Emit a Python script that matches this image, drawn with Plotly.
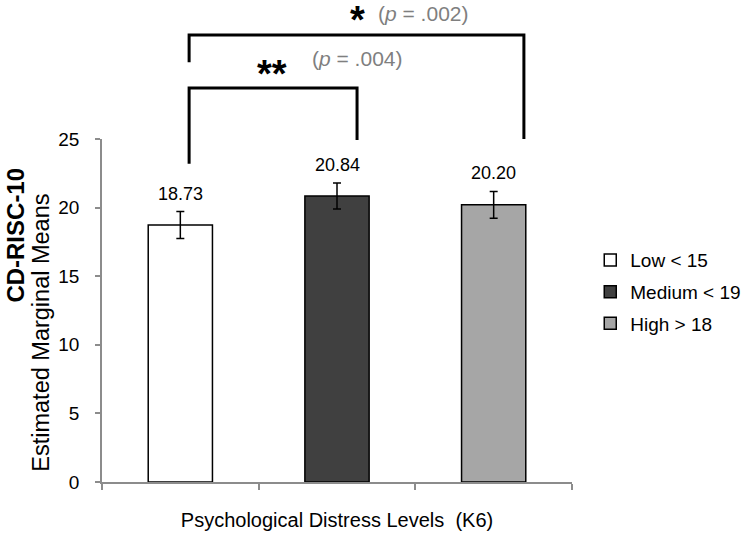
import plotly.graph_objects as go

# data
groups = ["Low < 15", "Medium < 19", "High > 18"]
means = [18.73, 20.84, 20.20]
errors = [0.98, 0.95, 0.98]
colors = ["#ffffff", "#404040", "#a6a6a6"]
y_ticks = [0, 5, 10, 15, 20, 25]

# significance brackets: (from group, to group, p label, stars)
comparisons = [
    (0, 1, "(<i>p</i> = .004)", "**"),
    (0, 2, "(<i>p</i> = .002)", "*"),
]

Y_MAX = 25
FONT = "Liberation Sans, Arial, sans-serif"


def yp(v):
    # data value -> paper coordinate (axis runs 0..Y_MAX over the whole domain)
    return v / Y_MAX


fig = go.Figure()

for i, (g, m, e, c) in enumerate(zip(groups, means, errors, colors)):
    fig.add_trace(go.Bar(
        x=[i], y=[m], name=g, legendgroup=g,
        marker=dict(color=c, line=dict(color="#000000", width=1.5)),
        width=0.41,
        error_y=dict(type="data", array=[e], color="#000000", thickness=1.5, width=4),
    ))
    fig.add_annotation(x=i, y=yp(m + e), xref="x", yref="paper", text=f"{m:.2f}",
                       showarrow=False, xanchor="center", yanchor="middle", yshift=18,
                       font=dict(family=FONT, size=18, color="#000000"))

# brackets
inner, outer = comparisons
lw = dict(color="#000000", width=3)
# inner bracket (Low vs Medium)
fig.add_shape(type="path", xref="x", yref="paper", line=lw,
              path=f"M {inner[0]+0.056},{yp(23.2)} L {inner[0]+0.056},{yp(28.72)} "
                   f"L {inner[1]+0.128},{yp(28.72)} L {inner[1]+0.128},{yp(24.93)}")
# outer bracket (Low vs High)
fig.add_shape(type="path", xref="x", yref="paper", line=lw,
              path=f"M {outer[0]+0.056},{yp(30.6)} L {outer[0]+0.056},{yp(32.58)} "
                   f"L {outer[1]+0.193},{yp(32.58)} L {outer[1]+0.193},{yp(25.0)}")

star_font = dict(family=FONT, size=38, color="#000000")
p_font = dict(family=FONT, size=21, color="#7f7f7f")
fig.add_annotation(x=0.585, y=yp(29.74), xref="x", yref="paper", text="<b>" + inner[3] + "</b>",
                   showarrow=False, xanchor="center", yanchor="middle", font=star_font)
fig.add_annotation(x=1.131, y=yp(30.9), xref="x", yref="paper", text=inner[2],
                   showarrow=False, xanchor="center", yanchor="middle", font=p_font)
fig.add_annotation(x=1.128, y=yp(33.67), xref="x", yref="paper", text="<b>" + outer[3] + "</b>",
                   showarrow=False, xanchor="center", yanchor="middle", font=star_font)
fig.add_annotation(x=1.555, y=yp(34.18), xref="x", yref="paper", text=outer[2],
                   showarrow=False, xanchor="center", yanchor="middle", font=p_font)

# y axis title, two separate lines
fig.add_annotation(x=-0.186, y=0.72, xref="paper", yref="paper", text="<b>CD-RISC-10</b>",
                   textangle=-90, showarrow=False, xanchor="center", yanchor="middle",
                   font=dict(family=FONT, size=24, color="#000000"))
fig.add_annotation(x=-0.130, y=0.435, xref="paper", yref="paper", text="Estimated Marginal Means",
                   textangle=-90, showarrow=False, xanchor="center", yanchor="middle",
                   font=dict(family=FONT, size=23.5, color="#000000"))

fig.update_layout(
    width=750, height=535,
    margin=dict(l=102, r=178, t=139, b=53),
    paper_bgcolor="white", plot_bgcolor="white",
    barmode="overlay",
    font=dict(family=FONT, size=19, color="#000000"),
    showlegend=True,
    legend=dict(xref="container", yref="container", x=0.787, y=0.454,
                xanchor="left", yanchor="middle",
                font=dict(size=19), tracegroupgap=4, itemwidth=30),
    xaxis=dict(
        type="linear", range=[-0.5, 2.5], showgrid=False, zeroline=False,
        showline=True, linecolor="#8c8c8c", linewidth=1.5, automargin=False,
        tickmode="array", tickvals=[-0.5, 0.5, 1.5, 2.5], ticks="outside",
        ticklen=6, tickcolor="#8c8c8c", tickwidth=1.5, showticklabels=False,
        title=dict(text="Psychological Distress Levels  (K6)", standoff=24,
                   font=dict(size=20)),
    ),
    yaxis=dict(
        range=[0, Y_MAX], tickvals=y_ticks, showgrid=False, zeroline=False,
        showline=True, linecolor="#8c8c8c", linewidth=1.5, automargin=False,
        ticks="outside", ticklen=5, tickcolor="#8c8c8c", tickwidth=1.5,
        tickfont=dict(size=19), ticklabelstandoff=12,
    ),
)

# drop the default 8px body margin so the figure sits at the window's corner
fig.write_html("out.html", config={"displayModeBar": False},
               post_script="document.body.style.margin = '0';")
